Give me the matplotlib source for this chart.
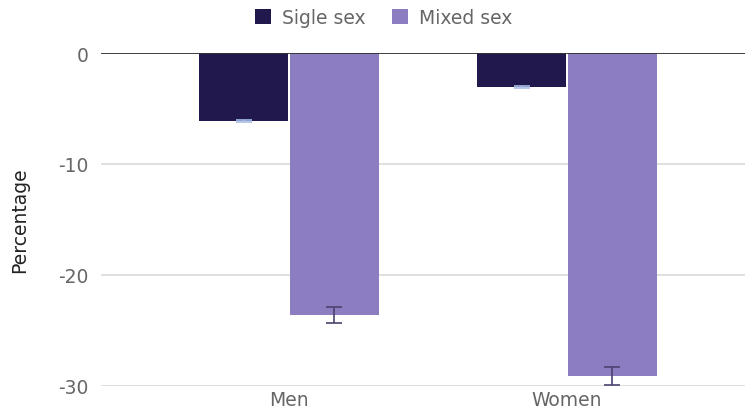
from matplotlib import pyplot as plt
import numpy as np

plt.rcParams["font.family"] = ["DejaVu Sans"]
plt.rcParams["axes.unicode_minus"] = False

categories = ["Men", "Women"]
single_sex = [-6.1, -3.05]
single_err = [0.1, 0.1]
mixed_sex = [-23.6, -29.1]
mixed_err = [0.75, 0.85]

c_single = "#21184d"
c_mixed = "#8c7dc1"
text_grey = "#666666"

fig = plt.figure(figsize=(7.45, 4.14), dpi=100)
ax = fig.add_axes([101 / 745, 1 - 387 / 414, 644 / 745, (387 - 54) / 414])

x = np.arange(len(categories))
w = 0.32
off = 0.163
ax.bar(x - off, single_sex, w, color=c_single, label="Sigle sex", zorder=3)
ax.bar(x + off, mixed_sex, w, color=c_mixed, label="Mixed sex", zorder=3)
ax.errorbar(x - off, single_sex, yerr=single_err, fmt="none", ecolor="#a9bde6",
            elinewidth=1.2, capsize=6, capthick=1.2, zorder=4)
ax.errorbar(x + off, mixed_sex, yerr=mixed_err, fmt="none", ecolor="#4d4270",
            elinewidth=1.2, capsize=6, capthick=1.2, zorder=4)

ax.set_ylim(-30, 0)
ax.set_xlim(-188 / 278, 1 + 178 / 278)
ax.set_yticks([0, -10, -20, -30])
ax.set_xticks(x)
ax.set_xticklabels(categories)
ax.grid(axis="y", color="#d9d9d9", linewidth=1.2, zorder=0)
ax.axhline(0, color="#333333", linewidth=1.3, zorder=5)
for s in ax.spines.values():
    s.set_visible(False)
ax.tick_params(length=0, labelsize=13.5, colors=text_grey, pad=9)
ax.tick_params(axis="x", pad=3)
ax.set_ylabel("Percentage", fontsize=13.5, color="#222222", labelpad=21)

fig.legend(loc="upper center", bbox_to_anchor=(0.515, 1.02), ncol=2, frameon=False,
           fontsize=13.5, handlelength=0.85, handleheight=0.85, handletextpad=0.6,
           columnspacing=1.4, labelcolor=text_grey)

plt.savefig("out.png")
